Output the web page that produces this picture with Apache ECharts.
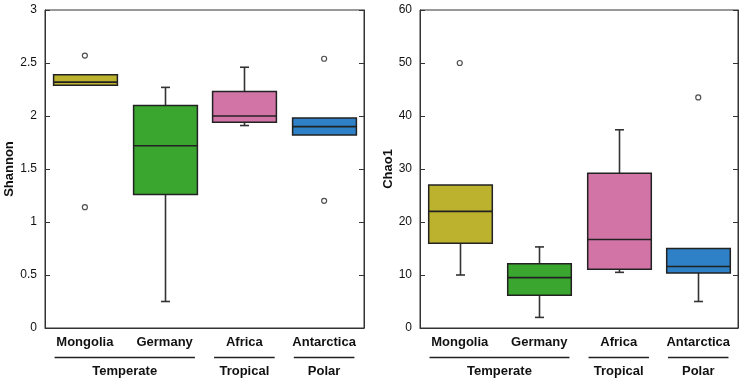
<!DOCTYPE html>
<html>
<head>
<meta charset="utf-8">
<script src="https://cdn.jsdelivr.net/npm/echarts@6/dist/echarts.min.js"></script>
<style>
html,body{margin:0;padding:0;background:#fff;}
#c{width:743px;height:383px;}
</style>
</head>
<body>
<div id="c"></div>
<script>
// ---- data ----
const categories = ['Mongolia', 'Germany', 'Africa', 'Antarctica'];
const groupNames = ['Temperate', 'Tropical', 'Polar'];
const groupFirst = [0, 2, 3];
const groupLast = [1, 2, 3];
// [whiskerLow, Q1, median, Q3, whiskerHigh]
const shannonBoxes = [
  [2.29, 2.29, 2.32, 2.39, 2.39],
  [0.25, 1.26, 1.72, 2.10, 2.27],
  [1.91, 1.94, 2.00, 2.23, 2.46],
  [1.82, 1.82, 1.90, 1.98, 1.98]
];
const shannonOutliers = [[0, 2.57], [0, 1.14], [3, 2.54], [3, 1.20]];
const chaoBoxes = [
  [10.0, 16.0, 22.0, 27.0, 27.0],
  [2.0, 6.2, 9.5, 12.1, 15.3],
  [10.5, 11.1, 16.7, 29.2, 37.4],
  [5.0, 10.4, 11.6, 15.0, 15.0]
];
const chaoOutliers = [[0, 50], [3, 43.5]];
const shannonTicks = { min: 0, max: 3, interval: 0.5 };
const chaoTicks = { min: 0, max: 60, interval: 10 };

// ---- style ----
const boxColors = ['#BDB22E', '#3AA52F', '#D374A7', '#2E81C6'];
const FONT = '"Liberation Sans", Arial, sans-serif';
const grids = [
  { left: 45, top: 10, width: 319, height: 318 },
  { left: 420, top: 10, width: 318, height: 318 }
];

function renderBox(params, api) {
  const x = api.value(0);
  const lo = api.coord([x, api.value(1)]);
  const q1 = api.coord([x, api.value(2)]);
  const md = api.coord([x, api.value(3)]);
  const q3 = api.coord([x, api.value(4)]);
  const hi = api.coord([x, api.value(5)]);
  const bw = api.size([1, 0])[0] * 0.8;
  const cx = Math.round(lo[0]) + 0.5;
  const cap = 4.5;
  const lineStyle = { stroke: '#333', lineWidth: 1.6 };
  const ch = [];
  if (Math.abs(lo[1] - q1[1]) > 0.5) {
    ch.push({ type: 'line', shape: { x1: cx, y1: q1[1], x2: cx, y2: lo[1] }, style: lineStyle });
    ch.push({ type: 'line', shape: { x1: cx - cap, y1: lo[1], x2: cx + cap, y2: lo[1] }, style: lineStyle });
  }
  if (Math.abs(hi[1] - q3[1]) > 0.5) {
    ch.push({ type: 'line', shape: { x1: cx, y1: q3[1], x2: cx, y2: hi[1] }, style: lineStyle });
    ch.push({ type: 'line', shape: { x1: cx - cap, y1: hi[1], x2: cx + cap, y2: hi[1] }, style: lineStyle });
  }
  ch.push({
    type: 'rect',
    shape: { x: cx - bw / 2, y: q3[1], width: bw, height: q1[1] - q3[1] },
    style: { fill: boxColors[params.dataIndex], stroke: '#222', lineWidth: 1.5 }
  });
  ch.push({ type: 'line', shape: { x1: cx - bw / 2, y1: md[1], x2: cx + bw / 2, y2: md[1] }, style: { stroke: '#222', lineWidth: 1.6 } });
  return { type: 'group', children: ch };
}

function boxData(boxes) {
  return boxes.map((b, i) => [i].concat(b));
}

function xAxisFor(gi) {
  return {
    type: 'category', gridIndex: gi, data: categories,
    axisLine: { show: true, lineStyle: { color: '#333', width: 1 } },
    axisTick: { show: false },
    axisLabel: { interval: 0, hideOverlap: false, color: '#111', fontSize: 13, fontWeight: 'bold', fontFamily: FONT, margin: 8 }
  };
}
function yAxisFor(gi, ticks, name, gap) {
  return [{
    type: 'value', gridIndex: gi, min: ticks.min, max: ticks.max, interval: ticks.interval,
    name: name, nameLocation: 'middle', nameGap: gap,
    nameTextStyle: { color: '#111', fontSize: 13, fontWeight: 'bold', fontFamily: FONT },
    axisLine: { show: true, lineStyle: { color: '#333', width: 1 } },
    axisTick: { show: true, inside: true, length: 5, lineStyle: { color: '#333' } },
    axisLabel: { color: '#111', fontSize: 12, fontFamily: FONT, margin: 8 },
    splitLine: { show: false }
  }, {
    type: 'value', gridIndex: gi, position: 'right', min: ticks.min, max: ticks.max, interval: ticks.interval,
    axisLine: { show: true, lineStyle: { color: '#333', width: 1 } },
    axisTick: { show: true, inside: true, length: 5, lineStyle: { color: '#333' } },
    axisLabel: { show: false },
    splitLine: { show: false }
  }];
}

const chart = echarts.init(document.getElementById('c'), null, { renderer: 'canvas' });
const option = {
  animation: false,
  backgroundColor: '#fff',
  grid: grids.map(g => Object.assign({ show: true, borderColor: '#333', borderWidth: 1, backgroundColor: 'transparent' }, g)),
  xAxis: [xAxisFor(0), xAxisFor(1)],
  yAxis: yAxisFor(0, shannonTicks, 'Shannon', 24).concat(yAxisFor(1, chaoTicks, 'Chao1', 25)),
  series: [
    { type: 'custom', xAxisIndex: 0, yAxisIndex: 0, data: boxData(shannonBoxes), renderItem: renderBox, encode: { x: 0, y: [1, 2, 3, 4, 5] } },
    { type: 'scatter', xAxisIndex: 0, yAxisIndex: 0, data: shannonOutliers, symbol: 'circle', symbolSize: 5,
      itemStyle: { color: '#fff', borderColor: '#222', borderWidth: 1.2 } },
    { type: 'custom', xAxisIndex: 1, yAxisIndex: 2, data: boxData(chaoBoxes), renderItem: renderBox, encode: { x: 0, y: [1, 2, 3, 4, 5] } },
    { type: 'scatter', xAxisIndex: 1, yAxisIndex: 2, data: chaoOutliers, symbol: 'circle', symbolSize: 5,
      itemStyle: { color: '#fff', borderColor: '#222', borderWidth: 1.2 } }
  ]
};
chart.setOption(option);

// group underlines and labels beneath category labels
const graphics = [];
[0, 1].forEach(gi => {
  const band = grids[gi].width / categories.length;
  groupNames.forEach((name, k) => {
    const x1 = chart.convertToPixel({ xAxisIndex: gi }, categories[groupFirst[k]]) - band * 0.38;
    const x2 = chart.convertToPixel({ xAxisIndex: gi }, categories[groupLast[k]]) + band * 0.38;
    graphics.push({
      type: 'line', shape: { x1: x1, y1: 357.5, x2: x2, y2: 357.5 },
      style: { stroke: '#222', lineWidth: 1.3 }
    });
    graphics.push({
      type: 'text', x: (x1 + x2) / 2, y: 371,
      style: { text: name, fill: '#111', font: 'bold 13px ' + FONT, align: 'center', verticalAlign: 'middle' }
    });
  });
});
chart.setOption({ graphic: graphics });
</script>
</body>
</html>
